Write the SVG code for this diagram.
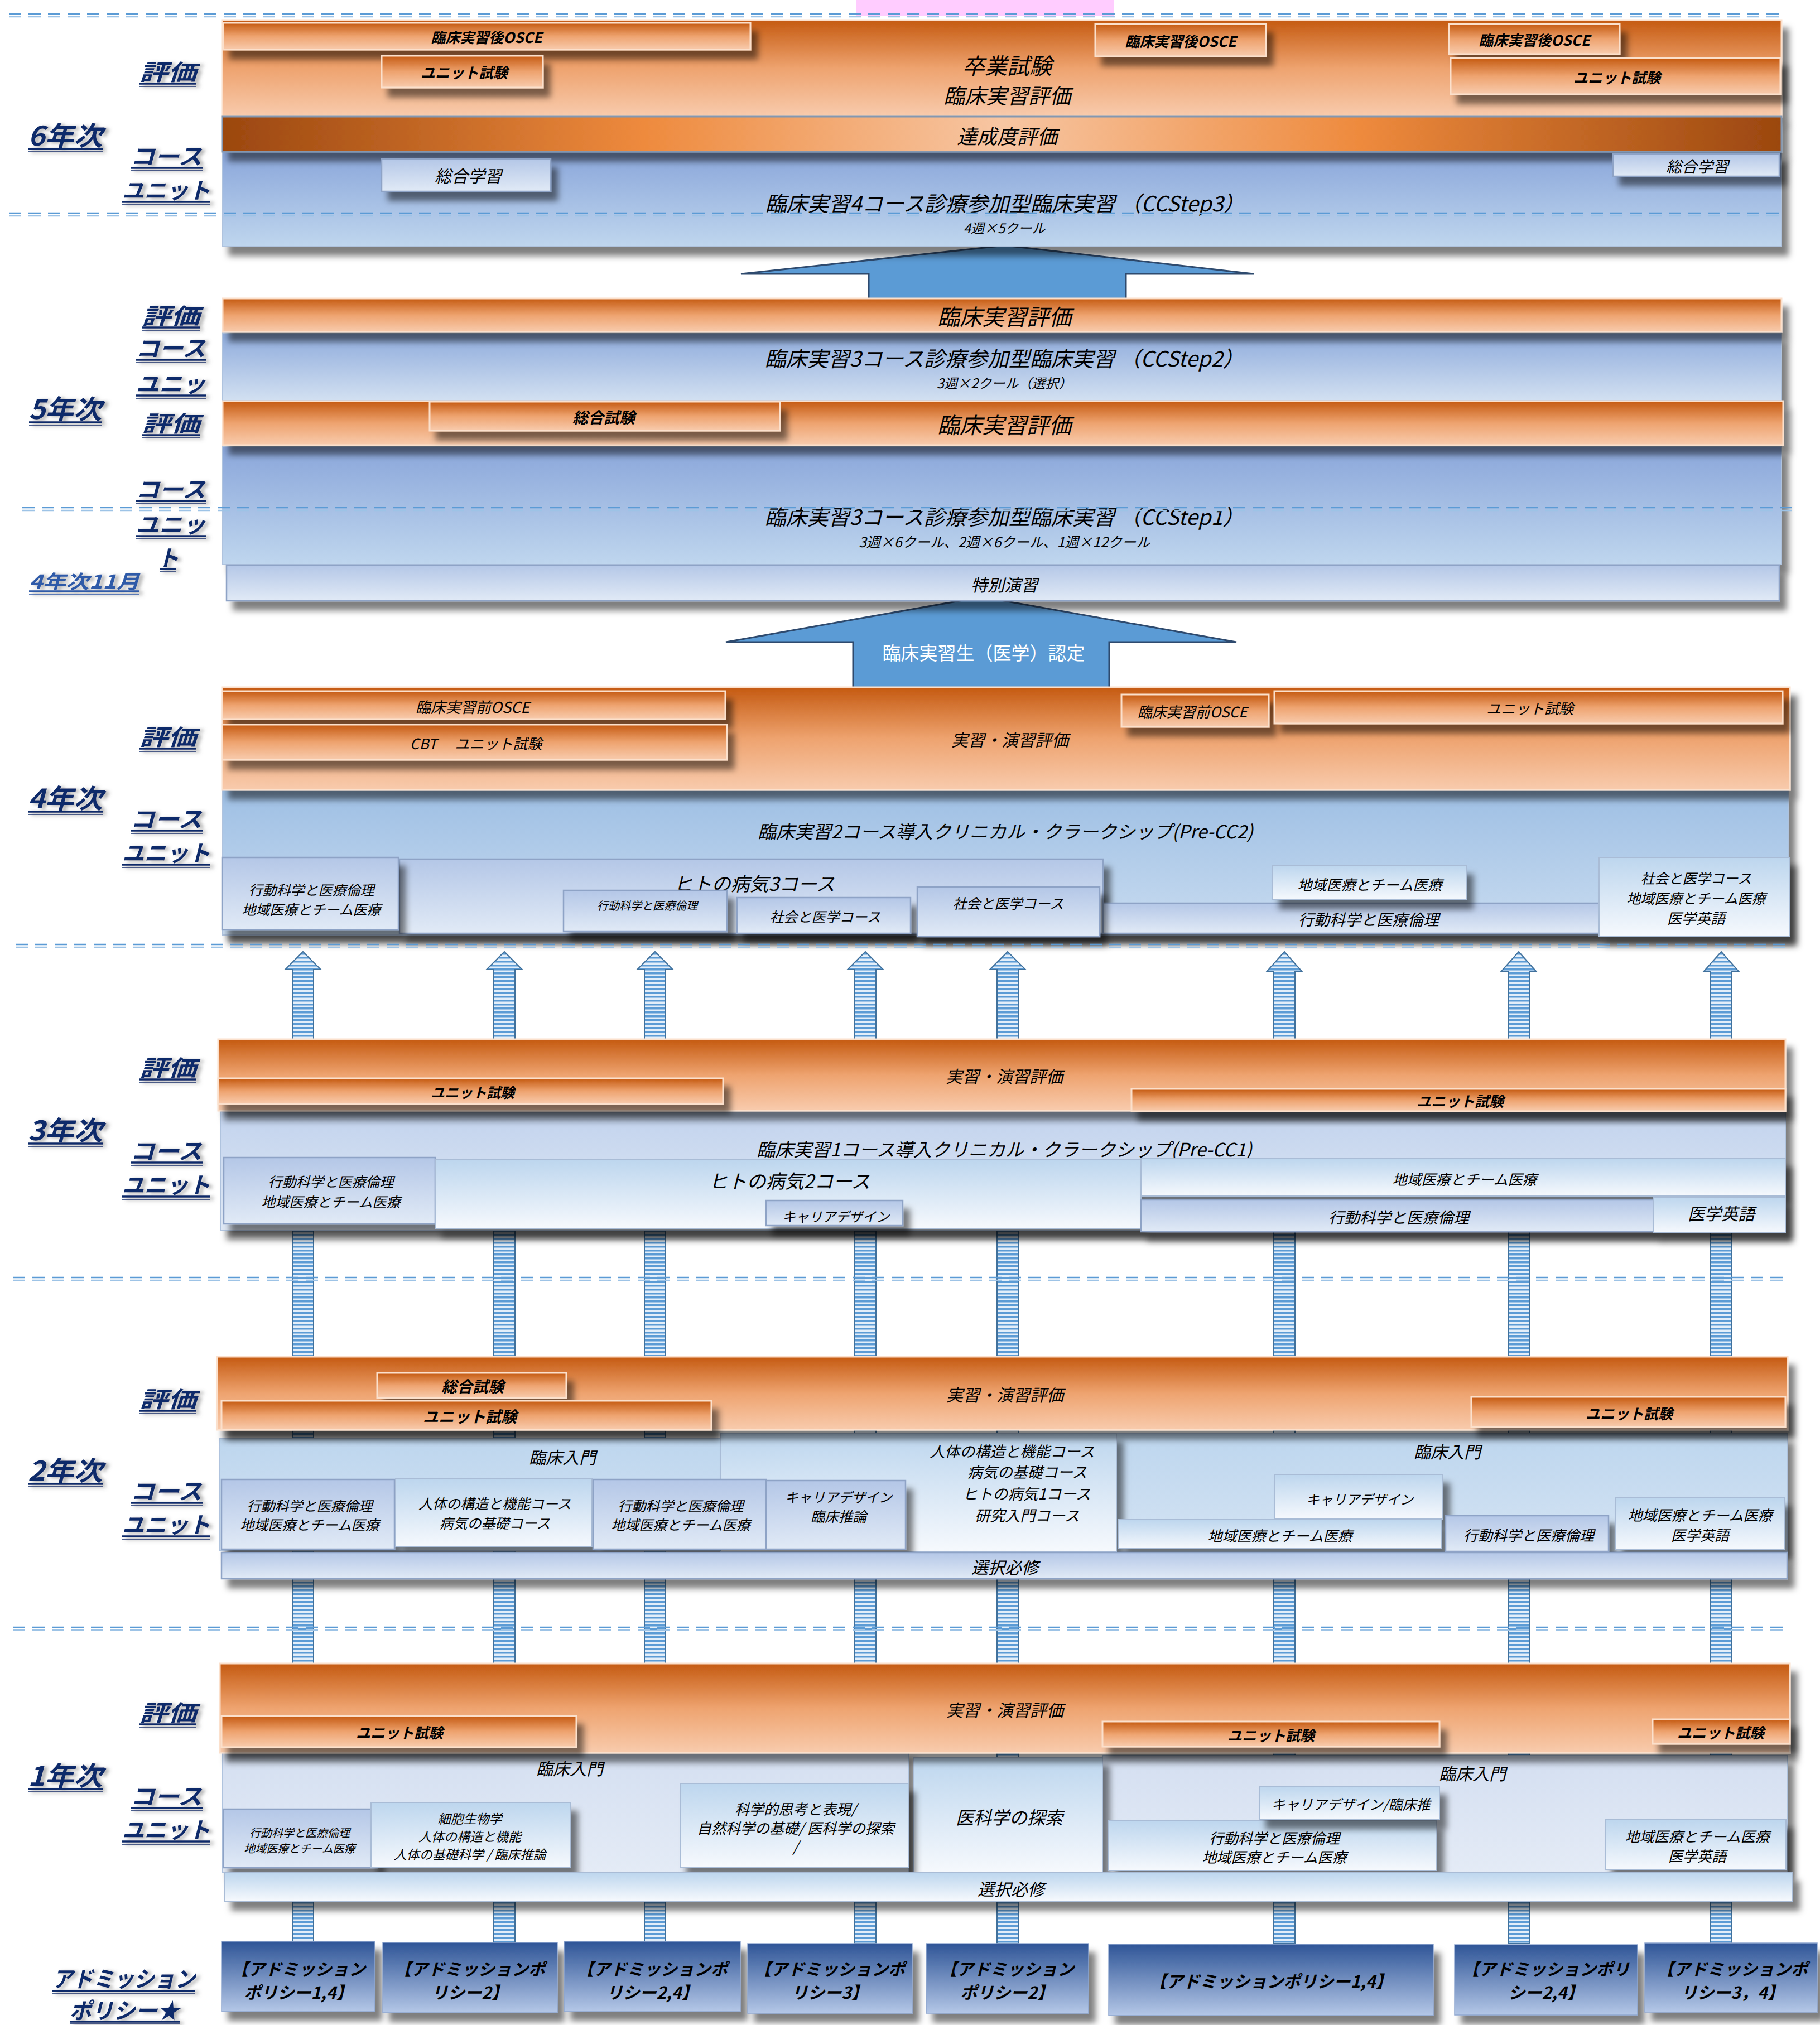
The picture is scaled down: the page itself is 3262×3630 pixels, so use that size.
<svg xmlns="http://www.w3.org/2000/svg" width="3262" height="3630" viewBox="0 0 3262 3630">
<defs>
<linearGradient id="gO" x1="0" y1="0" x2="0" y2="1"><stop offset="0" stop-color="#C55A11"/><stop offset="0.5" stop-color="#EEA36F"/><stop offset="1" stop-color="#F8CBAD"/></linearGradient>
<linearGradient id="gBar" x1="0" y1="0" x2="1" y2="0"><stop offset="0" stop-color="#9B470F"/><stop offset="0.27" stop-color="#EE8A3D"/><stop offset="0.5" stop-color="#F7C6A3"/><stop offset="0.73" stop-color="#EE8A3D"/><stop offset="1" stop-color="#9B470F"/></linearGradient>
<linearGradient id="gB6" x1="0" y1="0" x2="0" y2="1"><stop offset="0" stop-color="#8AA6DA"/><stop offset="1" stop-color="#BFD6EE"/></linearGradient>
<linearGradient id="gB5" x1="0" y1="0" x2="0" y2="1"><stop offset="0" stop-color="#8EABDC"/><stop offset="1" stop-color="#D2E0F1"/></linearGradient>
<linearGradient id="gB4" x1="0" y1="0" x2="0" y2="1"><stop offset="0" stop-color="#9EBFE4"/><stop offset="1" stop-color="#C9DCF0"/></linearGradient>
<linearGradient id="gB3" x1="0" y1="0" x2="0" y2="1"><stop offset="0" stop-color="#C2D3ED"/><stop offset="1" stop-color="#DFE8F5"/></linearGradient>
<linearGradient id="gB2" x1="0" y1="0" x2="0" y2="1"><stop offset="0" stop-color="#BDD6EE"/><stop offset="1" stop-color="#D4E3F3"/></linearGradient>
<linearGradient id="gB1" x1="0" y1="0" x2="0" y2="1"><stop offset="0" stop-color="#D4DFF1"/><stop offset="1" stop-color="#E4EBF6"/></linearGradient>
<linearGradient id="gU" x1="0" y1="0" x2="0" y2="1"><stop offset="0" stop-color="#B4C7E7"/><stop offset="1" stop-color="#E1EAF6"/></linearGradient>
<linearGradient id="gW" x1="0" y1="0" x2="0" y2="1"><stop offset="0" stop-color="#BDD6EE"/><stop offset="1" stop-color="#F6F9FD"/></linearGradient>
<linearGradient id="gA" x1="0" y1="0" x2="0" y2="1"><stop offset="0" stop-color="#2F5597"/><stop offset="1" stop-color="#B4C7E7"/></linearGradient>
<pattern id="st" patternUnits="userSpaceOnUse" width="8" height="7"><rect width="8" height="7" fill="#E3EEF9"/><rect width="8" height="3.5" fill="#5B9BD5"/></pattern>
<filter id="sh" x="-5%" y="-30%" width="120%" height="200%"><feDropShadow dx="12" dy="16" stdDeviation="6" flood-color="#000" flood-opacity="0.5"/></filter>
<filter id="ts" x="-10%" y="-20%" width="130%" height="160%"><feDropShadow dx="6" dy="2" stdDeviation="3" flood-color="#666" flood-opacity="0.55"/></filter>
</defs>
<style>
.t{font-family:"Noto Sans CJK JP","Noto Sans",sans-serif;font-style:italic;fill:#000;text-anchor:middle;dominant-baseline:central}
.b{font-weight:700}
.lb text{font-family:"Noto Sans CJK JP","Noto Sans",sans-serif;font-style:italic;font-weight:700;fill:#0F2B6B;text-anchor:middle;dominant-baseline:central;font-size:40px}
.lb text.yr{font-size:48px}
.lb{filter:url(#ts)}
.u1{stroke:#0F2B6B;stroke-width:3.5;fill:none}
.u2{stroke:#0F2B6B;stroke-width:1.5;fill:none}
.o{fill:url(#gO);stroke:#FBE0CC;stroke-width:3;filter:url(#sh)}
.u{fill:url(#gU);stroke:#8EA3C6;stroke-width:2.5;filter:url(#sh)}
.w{fill:url(#gW);stroke:#A9BCD6;stroke-width:2;filter:url(#sh)}
.bl{stroke:#AFC3DE;stroke-width:2;filter:url(#sh)}
.ad{fill:url(#gA);stroke:#8FA7CF;stroke-width:1.5;filter:url(#sh)}
.arr{fill:url(#st);stroke:#41719C;stroke-width:2}
.big{fill:#5B9BD5;stroke:#2E4A6E;stroke-width:3}
.dl{stroke-width:2.5;stroke-dasharray:22 13;fill:none}
</style>
<rect width="3262" height="3630" fill="#fff"/>
<rect id="pink" x="1535" y="0" width="461" height="28" fill="#FFCCFF"/>

<g id="connectors">
<polygon class="arr" points="543,1706 575,1738 562,1738 562,3484 524,3484 524,1738 511,1738"/>
<polygon class="arr" points="904,1706 936,1738 923,1738 923,3484 885,3484 885,1738 872,1738"/>
<polygon class="arr" points="1174,1706 1206,1738 1193,1738 1193,3484 1155,3484 1155,1738 1142,1738"/>
<polygon class="arr" points="1551,1706 1583,1738 1570,1738 1570,3484 1532,3484 1532,1738 1519,1738"/>
<polygon class="arr" points="1806,1706 1838,1738 1825,1738 1825,3484 1787,3484 1787,1738 1774,1738"/>
<polygon class="arr" points="2302,1706 2334,1742 2321,1742 2321,3484 2283,3484 2283,1742 2270,1742"/>
<polygon class="arr" points="2722,1706 2754,1742 2741,1742 2741,3484 2703,3484 2703,1742 2690,1742"/>
<polygon class="arr" points="3085,1706 3117,1742 3104,1742 3104,3484 3066,3484 3066,1742 3053,1742"/>
<polygon id="arrow-6-5" class="big" points="1801,440 2247,491 2018,491 2018,537 1557,537 1557,491 1328,491"/>
<polygon id="arrow-5-4" class="big" points="1760,1070 2216,1151 1988,1151 1988,1234 1529,1234 1529,1151 1301,1151"/>
<text class="t" x="1763" y="1169" font-size="33" style="font-style:normal;fill:#fff">臨床実習生（医学）認定</text>
</g>

<!-- Year 6 -->
<g id="y6-course"><rect class="bl" x="398" y="272" width="2795" height="170" fill="url(#gB6)"/>
<text class="t" x="1801" y="362" font-size="38">臨床実習4コース診療参加型臨床実習 （CCStep3）</text>
<text class="t" x="1800" y="407" font-size="24">4週×5クール</text></g>
<g id="y6-eval"><rect class="o" x="398" y="36" width="2795" height="173"/>
<text class="t" x="1805" y="116" font-size="40">卒業試験</text>
<text class="t" x="1805" y="169" font-size="38">臨床実習評価</text></g>
<g id="y6-bar"><rect x="398" y="209" width="2795" height="63" fill="url(#gBar)" stroke="#8497B0" stroke-width="3" style="filter:url(#sh)"/>
<text class="t" x="1805" y="242" font-size="36">達成度評価</text></g>
<g id="y6-osce1"><rect class="o" x="400" y="41" width="945" height="48"/><text class="t b" x="872" y="65" font-size="26">臨床実習後OSCE</text></g>
<g id="y6-unit1"><rect class="o" x="684" y="100" width="289" height="57"/><text class="t b" x="832" y="128" font-size="26">ユニット試験</text></g>
<g id="y6-osce2"><rect class="o" x="1963" y="43" width="306" height="58"/><text class="t b" x="2116" y="72" font-size="26">臨床実習後OSCE</text></g>
<g id="y6-osce3"><rect class="o" x="2597" y="43" width="306" height="54"/><text class="t b" x="2750" y="70" font-size="26">臨床実習後OSCE</text></g>
<g id="y6-unit2"><rect class="o" x="2600" y="104" width="591" height="65"/><text class="t b" x="2898" y="137" font-size="26">ユニット試験</text></g>
<g id="y6-sogo1"><rect class="u" x="684" y="285" width="303" height="58"/><text class="t" x="839" y="314" font-size="30">総合学習</text></g>
<g id="y6-sogo2"><rect class="u" x="2891" y="276" width="298" height="40"/><text class="t" x="3042" y="297" font-size="28">総合学習</text></g>

<!-- Year 5 -->
<g id="y5-course1"><rect class="bl" x="399" y="597" width="2794" height="121" fill="url(#gB5)"/>
<text class="t" x="1800" y="640" font-size="38">臨床実習3コース診療参加型臨床実習 （CCStep2）</text>
<text class="t" x="1800" y="685" font-size="24">3週×2クール（選択）</text></g>
<g id="y5-eval1"><rect class="o" x="399" y="535" width="2794" height="60"/><text class="t" x="1800" y="566" font-size="40">臨床実習評価</text></g>
<g id="y5-course2"><rect class="bl" x="399" y="800" width="2794" height="212" fill="url(#gB6)"/>
<text class="t" x="1800" y="924" font-size="38">臨床実習3コース診療参加型臨床実習 （CCStep1）</text>
<text class="t" x="1800" y="970" font-size="25">3週×6クール、2週×6クール、1週×12クール</text></g>
<g id="y5-eval2"><rect class="o" x="399" y="719" width="2797" height="79"/><text class="t" x="1800" y="760" font-size="40">臨床実習評価</text></g>
<g id="y5-sogo"><rect class="o" x="770" y="720" width="628" height="52"/><text class="t b" x="1082" y="747" font-size="28">総合試験</text></g>
<g id="y5-tokubetsu"><rect class="u" x="406" y="1013" width="2783" height="64"/><text class="t" x="1800" y="1047" font-size="30">特別演習</text></g>

<!-- Year 4 -->
<g id="y4-course"><rect class="bl" x="398" y="1416" width="2807" height="260" fill="url(#gB4)"/>
<text class="t" x="1802" y="1489" font-size="33">臨床実習2コース導入クリニカル・クラークシップ(Pre-CC2)</text></g>
<g id="y4-eval"><rect class="o" x="398" y="1232" width="2810" height="184"/><text class="t" x="1810" y="1325" font-size="30">実習・演習評価</text></g>
<g id="y4-osce1"><rect class="o" x="398" y="1239" width="902" height="50"/><text class="t" x="847" y="1266" font-size="27">臨床実習前OSCE</text></g>
<g id="y4-cbt"><rect class="o" x="398" y="1299" width="905" height="63"/><text class="t" x="853" y="1331" font-size="26">CBT　 ユニット試験</text></g>
<g id="y4-osce2"><rect class="o" x="2010" y="1245" width="264" height="58"/><text class="t" x="2137" y="1274" font-size="26">臨床実習前OSCE</text></g>
<g id="y4-unit"><rect class="o" x="2284" y="1239" width="911" height="58"/><text class="t" x="2742" y="1268" font-size="26">ユニット試験</text></g>
<g id="y4-hito3"><rect class="u" x="716" y="1540" width="1261" height="133"/><text class="t" x="1352" y="1582" font-size="34">ヒトの病気3コース</text></g>
<g id="y4-kodo-strip"><rect class="u" x="1977" y="1619" width="889" height="54"/><text class="t" x="2453" y="1647" font-size="28">行動科学と医療倫理</text></g>
<g id="y4-box-a"><rect class="u" x="398" y="1537" width="316" height="130"/><text class="t" x="558" y="1594" font-size="25">行動科学と医療倫理</text><text class="t" x="558" y="1629" font-size="25">地域医療とチーム医療</text></g>
<g id="y4-kodo-small"><rect class="u" x="1010" y="1596" width="293" height="74"/><text class="t" x="1160" y="1622" font-size="20">行動科学と医療倫理</text></g>
<g id="y4-shakai1"><rect class="u" x="1321" y="1609" width="311" height="64"/><text class="t" x="1479" y="1642" font-size="25">社会と医学コース</text></g>
<g id="y4-shakai2"><rect class="u" x="1644" y="1590" width="327" height="89"/><text class="t" x="1807" y="1618" font-size="25">社会と医学コース</text></g>
<g id="y4-chiiki"><rect class="w" x="2281" y="1552" width="347" height="61"/><text class="t" x="2455" y="1584" font-size="26">地域医療とチーム医療</text></g>
<g id="y4-box-right"><rect class="w" x="2866" y="1537" width="342" height="142"/><text class="t" x="3040" y="1573" font-size="25">社会と医学コース</text><text class="t" x="3040" y="1609" font-size="25">地域医療とチーム医療</text><text class="t" x="3040" y="1644" font-size="26">医学英語</text></g>

<!-- Year 3 -->
<g id="y3-course"><rect class="bl" x="395" y="1992" width="2805" height="214" fill="url(#gB3)"/>
<text class="t" x="1800" y="2059" font-size="33">臨床実習1コース導入クリニカル・クラークシップ(Pre-CC1)</text></g>
<g id="y3-eval"><rect class="o" x="391" y="1863" width="2809" height="128"/><text class="t" x="1800" y="1928" font-size="30">実習・演習評価</text></g>
<g id="y3-unit1"><rect class="o" x="391" y="1933" width="905" height="46"/><text class="t b" x="847" y="1957" font-size="25">ユニット試験</text></g>
<g id="y3-unit2"><rect class="o" x="2028" y="1952" width="1172" height="40"/><text class="t b" x="2617" y="1972" font-size="26">ユニット試験</text></g>
<g id="y3-box-a"><rect class="u" x="401" y="2075" width="379" height="119"/><text class="t" x="593" y="2117" font-size="25">行動科学と医療倫理</text><text class="t" x="593" y="2153" font-size="25">地域医療とチーム医療</text></g>
<g id="y3-hito2"><rect class="w" x="780" y="2079" width="1265" height="123"/><text class="t" x="1415" y="2115" font-size="34">ヒトの病気2コース</text></g>
<g id="y3-career"><rect class="u" x="1373" y="2152" width="245" height="45"/><text class="t" x="1498" y="2179" font-size="24">キャリアデザイン</text></g>
<g id="y3-chiiki"><rect class="w" x="2045" y="2077" width="1155" height="67"/><text class="t" x="2625" y="2112" font-size="26">地域医療とチーム医療</text></g>
<g id="y3-kodo"><rect class="u" x="2045" y="2151" width="919" height="57"/><text class="t" x="2507" y="2181" font-size="28">行動科学と医療倫理</text></g>
<g id="y3-eigo"><rect class="w" x="2964" y="2146" width="236" height="64"/><text class="t" x="3085" y="2174" font-size="30">医学英語</text></g>

<!-- Year 2 -->
<g id="y2-course-a"><rect class="bl" x="394" y="2579" width="898" height="201" fill="url(#gB2)"/><text class="t" x="1008" y="2611" font-size="30">臨床入門</text></g>
<g id="y2-course-c"><rect class="bl" x="2001" y="2570" width="1202" height="212" fill="url(#gB2)"/><text class="t" x="2594" y="2601" font-size="30">臨床入門</text></g>
<g id="y2-course-b"><rect class="w" x="1292" y="2569" width="709" height="213"/>
<text class="t" x="1814" y="2600" font-size="27">人体の構造と機能コース</text>
<text class="t" x="1841" y="2637" font-size="27">病気の基礎コース</text>
<text class="t" x="1840" y="2676" font-size="27">ヒトの病気1コース</text>
<text class="t" x="1841" y="2715" font-size="27">研究入門コース</text></g>
<g id="y2-eval"><rect class="o" x="389" y="2432" width="2815" height="131"/><text class="t" x="1801" y="2499" font-size="30">実習・演習評価</text></g>
<g id="y2-sogo"><rect class="o" x="676" y="2461" width="339" height="45"/><text class="t b" x="847" y="2484" font-size="28">総合試験</text></g>
<g id="y2-unit1"><rect class="o" x="397" y="2511" width="878" height="52"/><text class="t b" x="842" y="2538" font-size="28">ユニット試験</text></g>
<g id="y2-unit2"><rect class="o" x="2637" y="2504" width="563" height="54"/><text class="t b" x="2920" y="2532" font-size="26">ユニット試験</text></g>
<g id="y2-box-a"><rect class="u" x="397" y="2652" width="310" height="125"/><text class="t" x="555" y="2698" font-size="25">行動科学と医療倫理</text><text class="t" x="555" y="2732" font-size="25">地域医療とチーム医療</text></g>
<g id="y2-box-b"><rect class="w" x="709" y="2651" width="352" height="122"/><text class="t" x="887" y="2694" font-size="25">人体の構造と機能コース</text><text class="t" x="887" y="2729" font-size="25">病気の基礎コース</text></g>
<g id="y2-box-c"><rect class="u" x="1063" y="2652" width="310" height="125"/><text class="t" x="1220" y="2698" font-size="25">行動科学と医療倫理</text><text class="t" x="1220" y="2732" font-size="25">地域医療とチーム医療</text></g>
<g id="y2-box-d"><rect class="u" x="1373" y="2654" width="250" height="123"/><text class="t" x="1503" y="2682" font-size="24">キャリアデザイン</text><text class="t" x="1503" y="2717" font-size="25">臨床推論</text></g>
<g id="y2-career"><rect class="w" x="2284" y="2643" width="302" height="80"/><text class="t" x="2437" y="2686" font-size="24">キャリアデザイン</text></g>
<g id="y2-chiiki"><rect class="w" x="2005" y="2724" width="579" height="52"/><text class="t" x="2294" y="2751" font-size="26">地域医療とチーム医療</text></g>
<g id="y2-kodo"><rect class="u" x="2591" y="2717" width="292" height="64"/><text class="t" x="2740" y="2750" font-size="26">行動科学と医療倫理</text></g>
<g id="y2-box-right"><rect class="w" x="2895" y="2685" width="303" height="93"/><text class="t" x="3047" y="2714" font-size="26">地域医療とチーム医療</text><text class="t" x="3047" y="2750" font-size="26">医学英語</text></g>
<g id="y2-sentaku"><rect class="u" x="397" y="2783" width="2806" height="47"/><text class="t" x="1801" y="2808" font-size="30">選択必修</text></g>

<!-- Year 1 -->
<g id="y1-course-a"><rect class="bl" x="398" y="3138" width="1231" height="219" fill="url(#gB1)"/><text class="t" x="1021" y="3169" font-size="30">臨床入門</text></g>
<g id="y1-course-c"><rect class="bl" x="1976" y="3147" width="1227" height="210" fill="url(#gB1)"/><text class="t" x="2639" y="3178" font-size="30">臨床入門</text></g>
<g id="y1-tansaku"><rect class="w" x="1637" y="3150" width="339" height="207"/><text class="t" x="1809" y="3256" font-size="32">医科学の探索</text></g>
<g id="y1-eval"><rect class="o" x="394" y="2982" width="2814" height="160"/><text class="t" x="1801" y="3064" font-size="30">実習・演習評価</text></g>
<g id="y1-unit1"><rect class="o" x="397" y="3076" width="636" height="56"/><text class="t b" x="716" y="3104" font-size="26">ユニット試験</text></g>
<g id="y1-unit2"><rect class="o" x="1976" y="3086" width="604" height="45"/><text class="t b" x="2278" y="3109" font-size="26">ユニット試験</text></g>
<g id="y1-unit3"><rect class="o" x="2962" y="3082" width="246" height="44"/><text class="t b" x="3084" y="3104" font-size="26">ユニット試験</text></g>
<g id="y1-box-a"><rect class="u" x="400" y="3243" width="276" height="105"/><text class="t" x="537" y="3284" font-size="20">行動科学と医療倫理</text><text class="t" x="537" y="3312" font-size="20">地域医療とチーム医療</text></g>
<g id="y1-box-b"><rect class="w" x="665" y="3231" width="358" height="117"/><text class="t" x="842" y="3259" font-size="23">細胞生物学</text><text class="t" x="842" y="3291" font-size="23">人体の構造と機能</text><text class="t" x="842" y="3323" font-size="23">人体の基礎科学 / 臨床推論</text></g>
<g id="y1-box-c"><rect class="w" x="1219" y="3197" width="409" height="150"/><text class="t" x="1426" y="3241" font-size="26">科学的思考と表現/</text><text class="t" x="1426" y="3275" font-size="26">自然科学の基礎/ 医科学の探索</text><text class="t" x="1426" y="3308" font-size="26">/</text></g>
<g id="y1-box-e"><rect class="w" x="1987" y="3263" width="588" height="90"/><text class="t" x="2284" y="3293" font-size="26">行動科学と医療倫理</text><text class="t" x="2284" y="3327" font-size="26">地域医療とチーム医療</text></g>
<g id="y1-box-d"><rect class="w" x="2257" y="3202" width="323" height="60"/><text class="t" x="2421" y="3233" font-size="25">キャリアデザイン/臨床推</text></g>
<g id="y1-box-f"><rect class="w" x="2877" y="3262" width="324" height="90"/><text class="t" x="3042" y="3290" font-size="26">地域医療とチーム医療</text><text class="t" x="3042" y="3325" font-size="26">医学英語</text></g>
<g id="y1-sentaku"><rect class="w" x="403" y="3357" width="2810" height="51"/><text class="t" x="1812" y="3385" font-size="30">選択必修</text></g>

<!-- Admission policy boxes -->
<g id="ap1"><rect class="ad" x="397" y="3480" width="275" height="126"/><text class="t b" x="535" y="3528" font-size="30">【アドミッション</text><text class="t b" x="535" y="3570" font-size="30">ポリシー1,4】</text></g>
<g id="ap2"><rect class="ad" x="686" y="3482" width="313" height="126"/><text class="t b" x="842" y="3528" font-size="30">【アドミッションポ</text><text class="t b" x="842" y="3570" font-size="30">リシー2】</text></g>
<g id="ap3"><rect class="ad" x="1011" y="3480" width="316" height="126"/><text class="t b" x="1169" y="3528" font-size="30">【アドミッションポ</text><text class="t b" x="1169" y="3570" font-size="30">リシー2,4】</text></g>
<g id="ap4"><rect class="ad" x="1340" y="3484" width="295" height="125"/><text class="t b" x="1487" y="3528" font-size="30">【アドミッションポ</text><text class="t b" x="1487" y="3570" font-size="30">リシー3】</text></g>
<g id="ap5"><rect class="ad" x="1660" y="3484" width="291" height="125"/><text class="t b" x="1805" y="3528" font-size="30">【アドミッション</text><text class="t b" x="1805" y="3570" font-size="30">ポリシー2】</text></g>
<g id="ap6"><rect class="ad" x="1987" y="3485" width="582" height="128"/><text class="t b" x="2278" y="3550" font-size="30">【アドミッションポリシー1,4】</text></g>
<g id="ap7"><rect class="ad" x="2607" y="3486" width="328" height="126"/><text class="t b" x="2771" y="3528" font-size="30">【アドミッションポリ</text><text class="t b" x="2771" y="3570" font-size="30">シー2,4】</text></g>
<g id="ap8"><rect class="ad" x="2948" y="3483" width="309" height="124"/><text class="t b" x="3105" y="3528" font-size="30">【アドミッションポ</text><text class="t b" x="3105" y="3570" font-size="30">リシー3，4】</text></g>

<!-- dashed year separators -->
<g id="separators">
<path class="dl" stroke="#5B9BD5" d="M16 25H3195M16 382H3195M40 910H3222M28 1693H3205M23 2290H3206M23 2917H3206"/>
<path class="dl" stroke="#9DC3E6" d="M16 30H3195M16 387H3195M40 915H3222M28 1698H3205M23 2295H3206M23 2922H3206"/>
</g>

<!-- left labels -->
<g id="labels">
<g class="lb"><text x="301" y="127" textLength="102" lengthAdjust="spacingAndGlyphs">評価</text><path class="u1" d="M250 150h102"/><path class="u2" d="M250 155h102"/></g>
<g class="lb"><text class="yr" x="117" y="240" textLength="134" lengthAdjust="spacingAndGlyphs">6年次</text><path class="u1" d="M50 267h134"/><path class="u2" d="M50 272h134"/></g>
<g class="lb"><text x="298" y="278" textLength="129" lengthAdjust="spacingAndGlyphs">コース</text><path class="u1" d="M234 301h129"/><path class="u2" d="M234 306h129"/></g>
<g class="lb"><text x="298" y="339" textLength="158" lengthAdjust="spacingAndGlyphs">ユニット</text><path class="u1" d="M219 362h158"/><path class="u2" d="M219 367h158"/></g>

<g class="lb"><text x="306" y="564" textLength="104" lengthAdjust="spacingAndGlyphs">評価</text><path class="u1" d="M254 587h104"/><path class="u2" d="M254 592h104"/></g>
<g class="lb"><text x="306" y="622" textLength="125" lengthAdjust="spacingAndGlyphs">コース</text><path class="u1" d="M244 645h125"/><path class="u2" d="M244 650h125"/></g>
<g class="lb"><text x="306" y="686" textLength="125" lengthAdjust="spacingAndGlyphs">ユニッ</text><path class="u1" d="M244 709h125"/><path class="u2" d="M244 714h125"/></g>
<g class="lb"><text class="yr" x="117" y="730" textLength="131" lengthAdjust="spacingAndGlyphs">5年次</text><path class="u1" d="M52 757h131"/><path class="u2" d="M52 762h131"/></g>
<g class="lb"><text x="306" y="757" textLength="104" lengthAdjust="spacingAndGlyphs">評価</text><path class="u1" d="M254 780h104"/><path class="u2" d="M254 785h104"/></g>
<g class="lb"><text x="306" y="875" textLength="125" lengthAdjust="spacingAndGlyphs">コース</text><path class="u1" d="M244 898h125"/><path class="u2" d="M244 903h125"/></g>
<g class="lb"><text x="306" y="938" textLength="125" lengthAdjust="spacingAndGlyphs">ユニッ</text><path class="u1" d="M244 961h125"/><path class="u2" d="M244 966h125"/></g>
<g class="lb"><text x="301" y="998">ト</text><path class="u1" d="M286 1020h30"/><path class="u2" d="M286 1025h30"/></g>
<g class="lb"><text x="151" y="1040" textLength="198" lengthAdjust="spacingAndGlyphs" style="font-size:34px;fill:#2E5AA8">4年次11月</text><path class="u1" d="M52 1060h198" style="stroke:#2E5AA8"/><path class="u2" d="M52 1065h198" style="stroke:#2E5AA8"/></g>

<g class="lb"><text x="301" y="1319" textLength="102" lengthAdjust="spacingAndGlyphs">評価</text><path class="u1" d="M250 1342h102"/><path class="u2" d="M250 1347h102"/></g>
<g class="lb"><text class="yr" x="117" y="1428" textLength="134" lengthAdjust="spacingAndGlyphs">4年次</text><path class="u1" d="M50 1455h134"/><path class="u2" d="M50 1460h134"/></g>
<g class="lb"><text x="298" y="1466" textLength="129" lengthAdjust="spacingAndGlyphs">コース</text><path class="u1" d="M234 1489h129"/><path class="u2" d="M234 1494h129"/></g>
<g class="lb"><text x="298" y="1527" textLength="158" lengthAdjust="spacingAndGlyphs">ユニット</text><path class="u1" d="M219 1550h158"/><path class="u2" d="M219 1555h158"/></g>

<g class="lb"><text x="301" y="1912" textLength="102" lengthAdjust="spacingAndGlyphs">評価</text><path class="u1" d="M250 1935h102"/><path class="u2" d="M250 1940h102"/></g>
<g class="lb"><text class="yr" x="117" y="2023" textLength="134" lengthAdjust="spacingAndGlyphs">3年次</text><path class="u1" d="M50 2050h134"/><path class="u2" d="M50 2055h134"/></g>
<g class="lb"><text x="298" y="2061" textLength="129" lengthAdjust="spacingAndGlyphs">コース</text><path class="u1" d="M234 2084h129"/><path class="u2" d="M234 2089h129"/></g>
<g class="lb"><text x="298" y="2122" textLength="158" lengthAdjust="spacingAndGlyphs">ユニット</text><path class="u1" d="M219 2145h158"/><path class="u2" d="M219 2150h158"/></g>

<g class="lb"><text x="301" y="2506" textLength="102" lengthAdjust="spacingAndGlyphs">評価</text><path class="u1" d="M250 2529h102"/><path class="u2" d="M250 2534h102"/></g>
<g class="lb"><text class="yr" x="117" y="2633" textLength="134" lengthAdjust="spacingAndGlyphs">2年次</text><path class="u1" d="M50 2660h134"/><path class="u2" d="M50 2665h134"/></g>
<g class="lb"><text x="298" y="2671" textLength="129" lengthAdjust="spacingAndGlyphs">コース</text><path class="u1" d="M234 2694h129"/><path class="u2" d="M234 2699h129"/></g>
<g class="lb"><text x="298" y="2731" textLength="158" lengthAdjust="spacingAndGlyphs">ユニット</text><path class="u1" d="M219 2754h158"/><path class="u2" d="M219 2759h158"/></g>

<g class="lb"><text x="301" y="3068" textLength="102" lengthAdjust="spacingAndGlyphs">評価</text><path class="u1" d="M250 3091h102"/><path class="u2" d="M250 3096h102"/></g>
<g class="lb"><text class="yr" x="117" y="3180" textLength="134" lengthAdjust="spacingAndGlyphs">1年次</text><path class="u1" d="M50 3207h134"/><path class="u2" d="M50 3212h134"/></g>
<g class="lb"><text x="298" y="3218" textLength="129" lengthAdjust="spacingAndGlyphs">コース</text><path class="u1" d="M234 3241h129"/><path class="u2" d="M234 3246h129"/></g>
<g class="lb"><text x="298" y="3278" textLength="158" lengthAdjust="spacingAndGlyphs">ユニット</text><path class="u1" d="M219 3301h158"/><path class="u2" d="M219 3306h158"/></g>

<g class="lb"><text x="222" y="3545" textLength="256" lengthAdjust="spacingAndGlyphs">アドミッション</text><path class="u1" d="M94 3569h256"/><path class="u2" d="M94 3574h256"/></g>
<g class="lb"><text x="223" y="3602" textLength="197" lengthAdjust="spacingAndGlyphs">ポリシー★</text><path class="u1" d="M125 3624h197"/><path class="u2" d="M125 3628h197"/></g>
</g>
</svg>
